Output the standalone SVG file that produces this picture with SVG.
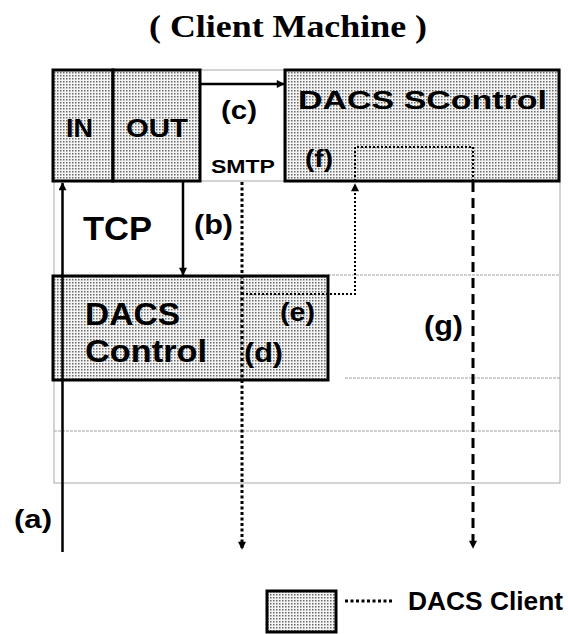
<svg xmlns="http://www.w3.org/2000/svg" width="568" height="634" viewBox="0 0 568 634">
<style>
.t{font-family:"Liberation Sans",Arial,sans-serif;font-weight:bold;fill:#000}
.title{font-family:"Liberation Serif","Times New Roman",serif;font-weight:bold;fill:#000}
.box{fill:url(#stip);stroke:#000;stroke-width:3}
.grid{stroke:#a8a8a8;stroke-width:1;fill:none}
.gdot{stroke:#a0a0a0;stroke-width:1;stroke-dasharray:3 1;fill:none}
.solid{stroke:#000;stroke-width:2.5;fill:none}
.dot{stroke:#000;stroke-width:3;stroke-dasharray:3 2.5;fill:none}
.fdot{stroke:#000;stroke-width:2;stroke-dasharray:2 2;fill:none}
.dash{stroke:#000;stroke-width:3;stroke-dasharray:10 6;fill:none}
</style>
<defs>
<pattern id="stip" width="3" height="3" patternUnits="userSpaceOnUse">
<rect width="3" height="3" fill="#f4f4f4"/>
<rect x="0" y="0" width="1.5" height="1.5" fill="#6a6a6a"/>
</pattern>
<marker id="ah" viewBox="0 0 10 10" refX="9" refY="5" markerWidth="9" markerHeight="8" markerUnits="userSpaceOnUse" orient="auto">
<path d="M0 0 L10 5 L0 10 Z" fill="#000"/>
</marker>
</defs>
<g id="title">
<text class="title" x="149" y="37" font-size="31" textLength="278" lengthAdjust="spacingAndGlyphs">( Client Machine )</text>
</g>
<g id="frame">
<rect class="grid" x="54" y="70" width="506" height="413"/>
<line class="grid" x1="200" y1="181" x2="285" y2="181"/>
<line class="gdot" x1="328" y1="275" x2="560" y2="275"/>
<line class="gdot" x1="345" y1="378" x2="560" y2="378"/>
<line class="gdot" x1="54" y1="431" x2="560" y2="431"/>
</g>
<g id="node-in">
<rect class="box" x="53" y="70" width="60" height="111"/>
<text class="t" x="66" y="137" font-size="26" textLength="27" lengthAdjust="spacingAndGlyphs">IN</text>
</g>
<g id="node-out">
<rect class="box" x="113" y="70" width="87" height="111"/>
<text class="t" x="126" y="137" font-size="26" textLength="62" lengthAdjust="spacingAndGlyphs">OUT</text>
</g>
<g id="node-scontrol">
<rect class="box" x="285" y="70" width="274" height="111"/>
<text class="t" x="298" y="109" font-size="25" textLength="249" lengthAdjust="spacingAndGlyphs">DACS  SControl</text>
</g>
<g id="node-control">
<rect class="box" x="53" y="276" width="275" height="104"/>
<text class="t" x="85" y="325" font-size="32" textLength="95" lengthAdjust="spacingAndGlyphs">DACS</text>
<text class="t" x="85" y="362" font-size="32" textLength="122" lengthAdjust="spacingAndGlyphs">Control</text>
</g>
<g id="connectors">
<line class="solid" x1="62.5" y1="552" x2="62.5" y2="183" marker-end="url(#ah)"/>
<line class="solid" x1="183" y1="181" x2="183" y2="275" marker-end="url(#ah)"/>
<line class="solid" x1="200" y1="84" x2="284" y2="84" marker-end="url(#ah)"/>
<line class="dot" x1="242" y1="182" x2="242" y2="549" marker-end="url(#ah)"/>
<path class="fdot" d="M242 294 H355 V184" marker-end="url(#ah)"/>
<path class="fdot" d="M355 181 V147 H473 V181"/>
<line class="dash" x1="473" y1="182" x2="473" y2="548" marker-end="url(#ah)"/>
</g>
<g id="labels">
<text class="t" x="221" y="119" font-size="26" textLength="36" lengthAdjust="spacingAndGlyphs">(c)</text>
<text class="t" x="211" y="173" font-size="18" textLength="64" lengthAdjust="spacingAndGlyphs">SMTP</text>
<text class="t" x="305" y="167" font-size="23" textLength="28" lengthAdjust="spacingAndGlyphs">(f)</text>
<text class="t" x="83" y="240" font-size="33" textLength="69" lengthAdjust="spacingAndGlyphs">TCP</text>
<text class="t" x="194" y="234" font-size="28" textLength="39" lengthAdjust="spacingAndGlyphs">(b)</text>
<text class="t" x="280" y="321" font-size="26" textLength="35" lengthAdjust="spacingAndGlyphs">(e)</text>
<text class="t" x="244" y="362" font-size="28" textLength="39" lengthAdjust="spacingAndGlyphs">(d)</text>
<text class="t" x="424" y="335" font-size="27" textLength="39" lengthAdjust="spacingAndGlyphs">(g)</text>
<text class="t" x="14" y="528" font-size="26" textLength="38" lengthAdjust="spacingAndGlyphs">(a)</text>
</g>
<g id="legend">
<rect class="box" x="267" y="591" width="69" height="41"/>
<line class="dot" x1="345" y1="601" x2="392" y2="601"/>
<text class="t" x="408" y="610" font-size="25" textLength="155" lengthAdjust="spacingAndGlyphs">DACS Client</text>
</g>
</svg>
